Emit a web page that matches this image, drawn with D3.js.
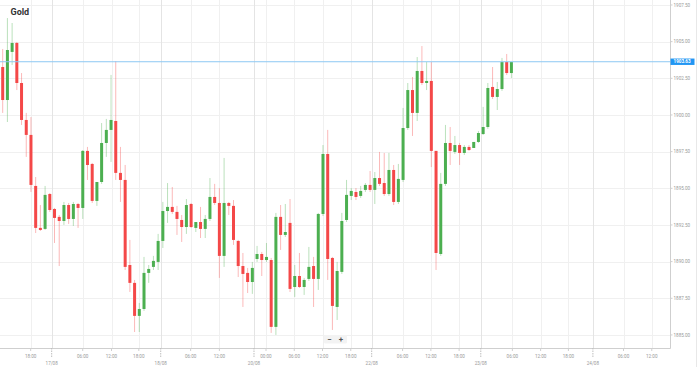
<!DOCTYPE html>
<html>
<head>
<meta charset="utf-8">
<script src="https://cdn.jsdelivr.net/npm/d3@7"></script>
<style>
html,body{margin:0;padding:0;background:#fff;}
svg{display:block;font-family:Roboto,"Open Sans",sans-serif;}
</style>
</head>
<body>
<svg id="chart" width="698" height="367"></svg>
<script>
// ---- data (hourly candles) ----
const opens = [1903.27,1901.02,1904.30,1904.91,1902.18,1899.66,1898.64,1895.16,1892.30,1892.23,
1894.61,1893.59,1893.05,1892.77,1893.86,1892.91,1893.93,1893.66,1897.55,1896.66,
1894.14,1895.43,1898.09,1898.98,1899.59,1896.05,1895.57,1889.77,1888.55,1886.30,
1886.77,1889.23,1889.64,1889.98,1891.41,1893.45,1893.73,1893.39,1892.84,1892.36,
1893.93,1892.30,1892.70,1892.23,1892.91,1894.41,1894.00,1890.39,1894.00,1893.80,
1891.41,1889.70,1889.23,1888.61,1890.18,1890.52,1890.11,1890.11,1885.55,1893.05,
1891.82,1892.64,1888.27,1889.02,1888.27,1888.82,1889.70,1888.82,1893.25,1897.34,
1890.25,1886.91,1889.30,1892.84,1894.48,1894.75,1894.48,1894.89,1895.23,1894.89,
1895.70,1895.36,1894.61,1896.25,1894.07,1895.57,1899.11,1901.70,1900.14,1903.00,
1902.18,1902.32,1897.55,1890.52,1895.30,1898.09,1897.48,1897.95,1897.41,1897.82,
1897.75,1898.16,1898.70,1899.18,1901.91,1901.23,1901.77,1903.61,1902.86];
const highs = [1904.50,1906.61,1906.27,1904.98,1902.86,1900.14,1899.86,1895.77,1893.86,1895.16,
1894.68,1893.66,1893.18,1894.07,1894.00,1894.07,1894.00,1897.61,1897.82,1896.73,
1895.43,1899.45,1899.73,1902.73,1903.68,1897.82,1896.59,1891.48,1888.75,1887.18,
1890.32,1889.77,1890.39,1891.89,1894.07,1895.36,1895.09,1893.80,1893.18,1894.27,
1894.00,1892.70,1893.73,1893.18,1895.70,1895.30,1895.02,1897.07,1894.07,1894.20,
1891.48,1890.59,1889.57,1889.98,1891.07,1890.66,1891.27,1890.25,1893.32,1893.86,
1893.93,1894.27,1889.77,1890.59,1888.89,1891.00,1890.32,1893.32,1897.95,1898.98,
1890.32,1889.98,1893.32,1895.57,1895.02,1895.02,1895.16,1895.36,1896.18,1896.11,
1897.48,1897.41,1897.41,1896.59,1896.66,1900.48,1902.18,1902.59,1903.95,1904.70,
1903.61,1903.61,1897.55,1896.05,1899.32,1899.18,1898.57,1898.09,1897.95,1897.95,
1898.16,1898.91,1900.55,1902.18,1903.27,1902.25,1903.89,1904.16,1903.61];
const lows = [1900.14,1899.52,1903.41,1901.70,1899.32,1897.14,1894.75,1891.95,1892.09,1892.16,
1893.39,1891.27,1889.70,1892.50,1892.57,1892.43,1892.30,1892.91,1895.57,1894.00,
1893.80,1895.30,1897.14,1896.80,1895.57,1894.07,1889.43,1887.93,1885.20,1885.20,
1886.64,1888.55,1889.43,1889.43,1890.93,1892.64,1893.25,1891.82,1891.34,1891.89,
1892.30,1892.02,1891.61,1891.61,1892.77,1893.86,1888.89,1889.64,1893.18,1891.14,
1888.95,1886.91,1887.86,1887.80,1889.98,1889.02,1889.98,1885.14,1885.00,1890.80,
1891.68,1887.93,1887.59,1888.20,1887.73,1888.68,1886.91,1888.07,1893.11,1888.75,
1885.34,1886.02,1889.16,1892.70,1894.20,1894.20,1894.34,1894.75,1894.75,1893.93,
1895.16,1894.48,1894.48,1893.86,1893.93,1895.43,1898.98,1898.57,1899.59,1902.05,
1901.70,1896.45,1889.43,1890.39,1895.16,1896.59,1897.34,1896.59,1897.27,1897.55,
1897.75,1898.09,1898.64,1899.05,1901.09,1900.34,1901.64,1902.73,1902.52];
const closes = [1901.02,1904.43,1904.91,1902.18,1899.66,1898.64,1895.23,1892.30,1892.16,1894.55,
1893.52,1892.98,1892.77,1893.86,1892.91,1893.93,1893.66,1897.55,1896.59,1894.14,
1895.43,1898.09,1898.98,1899.66,1896.05,1895.57,1889.64,1888.55,1886.30,1886.77,
1889.23,1889.50,1890.05,1891.41,1893.45,1893.73,1893.39,1892.91,1892.36,1893.86,
1892.36,1892.70,1892.23,1892.91,1894.41,1894.00,1890.39,1894.00,1893.80,1891.48,
1889.70,1889.16,1888.61,1889.57,1890.52,1890.11,1890.32,1885.55,1893.05,1891.82,
1892.02,1888.14,1889.02,1888.27,1888.75,1889.64,1888.82,1893.25,1897.34,1890.18,
1886.98,1889.36,1892.77,1894.55,1894.82,1894.41,1894.82,1895.23,1894.89,1895.70,
1895.30,1894.61,1896.25,1894.07,1895.64,1899.11,1901.70,1900.14,1903.00,1902.18,
1902.32,1897.55,1890.59,1895.30,1898.09,1897.55,1897.95,1897.41,1897.82,1897.61,
1898.16,1898.77,1899.18,1901.84,1901.23,1901.77,1903.61,1902.86,1903.61];

const title = "Gold";
const currentPrice = 1903.63;
const priceTicks = [1885, 1887.5, 1890, 1892.5, 1895, 1897.5, 1900, 1902.5, 1905, 1907.5];
// time ticks, in hourly-slot units (slot 0 = first candle)
const timeTickLabels = ["18:00","06:00","12:00","18:00","06:00","12:00","00:00","06:00","12:00","18:00",
  "06:00","12:00","18:00","06:00","12:00","18:00","06:00","12:00"];
const timeTickSlots = [5.94,16.99,23.1,28.9,39.9,46.0,55.9,61.9,67.9,73.9,
  84.9,90.9,96.9,108.2,114.2,120.1,131.8,137.8];
const dayTickLabels = ["17/08","18/08","20/08","22/08","23/08","24/08"];
const dayTickSlots = [10.4,33.55,53.35,78.34,101.5,125.3];

// ---- layout ----
const W = 698, H = 367;
const plotRight = 670, plotBottom = 348;
const svg = d3.select("#chart");

const candles = opens.map((o,i)=>({i, o, h:highs[i], l:lows[i], c:closes[i]}));

const x = d3.scaleLinear().domain([-0.573, 141.67]).range([0, plotRight]);
const y = d3.scaleLinear().domain([1884.11, 1907.84]).range([plotBottom, 0]);

const UP = "#4caf50", DOWN = "#f44848";
const UPW = "rgba(76,175,80,0.38)", DOWNW = "rgba(244,72,72,0.38)";

// grid
const grid = svg.append("g");
grid.selectAll("line.h").data(priceTicks).join("line")
  .attr("x1",0).attr("x2",plotRight)
  .attr("y1",d=>Math.round(y(d))+0.5).attr("y2",d=>Math.round(y(d))+0.5)
  .attr("stroke","#f0f0f0").attr("stroke-width",1);
grid.selectAll("line.vt").data(timeTickSlots).join("line")
  .attr("y1",0).attr("y2",plotBottom)
  .attr("x1",d=>Math.round(x(d))+0.5).attr("x2",d=>Math.round(x(d))+0.5)
  .attr("stroke","#f0f0f0").attr("stroke-width",1);
grid.selectAll("line.vd").data(dayTickSlots).join("line")
  .attr("y1",0).attr("y2",plotBottom)
  .attr("x1",d=>Math.round(x(d))+0.5).attr("x2",d=>Math.round(x(d))+0.5)
  .attr("stroke","#e4e4e4").attr("stroke-width",1);

// candles
const cg = svg.append("g");
const bw = 3;
cg.selectAll("line.wick").data(candles).join("line")
  .attr("x1",d=>x(d.i)).attr("x2",d=>x(d.i))
  .attr("y1",d=>y(d.h)).attr("y2",d=>y(d.l))
  .attr("stroke",d=>d.c>=d.o?UPW:DOWNW).attr("stroke-width",1);
cg.selectAll("rect.body").data(candles).join("rect")
  .attr("x",d=>x(d.i)-bw/2).attr("width",bw)
  .attr("y",d=>y(Math.max(d.o,d.c)))
  .attr("height",d=>Math.max(1, Math.abs(y(d.o)-y(d.c))))
  .attr("fill",d=>d.c>=d.o?UP:DOWN);

// current price line
svg.append("line").attr("x1",0).attr("x2",plotRight)
  .attr("y1",y(currentPrice)).attr("y2",y(currentPrice))
  .attr("stroke","#8ec9f3").attr("stroke-width",1);

// axes lines
svg.append("line").attr("x1",plotRight+0.5).attr("x2",plotRight+0.5).attr("y1",0).attr("y2",plotBottom+0.5)
  .attr("stroke","#cfcfcf");
svg.append("line").attr("x1",0).attr("x2",plotRight+0.5).attr("y1",plotBottom+0.5).attr("y2",plotBottom+0.5)
  .attr("stroke","#cfcfcf");
svg.append("line").attr("x1",W-1.5).attr("x2",W-1.5).attr("y1",0).attr("y2",H)
  .attr("stroke","#e8e8e8");

// y axis labels
const ya = svg.append("g");
ya.selectAll("line").data(priceTicks).join("line")
  .attr("x1",plotRight).attr("x2",plotRight+2.5)
  .attr("y1",d=>y(d)).attr("y2",d=>y(d)).attr("stroke","#cfcfcf");
ya.selectAll("text").data(priceTicks).join("text")
  .attr("x",plotRight+3.5).attr("y",d=>y(d)+1.6)
  .attr("font-size",4.6).attr("fill","#9a9a9a")
  .text(d=>d3.format(".2f")(d));

// current price tag
svg.append("rect").attr("x",plotRight+0.5).attr("y",y(currentPrice)-3.2)
  .attr("width",24).attr("height",6.4).attr("fill","#2196f3");
svg.append("text").attr("x",plotRight+3.5).attr("y",y(currentPrice)+1.7)
  .attr("font-size",4.6).attr("fill","#fff").attr("font-weight","bold")
  .text(d3.format(".2f")(currentPrice));

// x axis
const xa = svg.append("g");
xa.selectAll("line.t").data(timeTickSlots).join("line")
  .attr("x1",d=>x(d)).attr("x2",d=>x(d)).attr("y1",plotBottom).attr("y2",plotBottom+3)
  .attr("stroke","#cfcfcf");
xa.selectAll("text.t").data(timeTickSlots).join("text")
  .attr("x",d=>x(d)).attr("y",357.5).attr("text-anchor","middle")
  .attr("font-size",4.6).attr("fill","#9a9a9a")
  .text((d,i)=>timeTickLabels[i]);
xa.selectAll("line.d").data(dayTickSlots).join("line")
  .attr("x1",d=>x(d)).attr("x2",d=>x(d)).attr("y1",plotBottom).attr("y2",plotBottom+10)
  .attr("stroke","#bdbdbd").attr("stroke-dasharray","1.5,1");
xa.selectAll("text.d").data(dayTickSlots).join("text")
  .attr("x",d=>x(d)).attr("y",364.8).attr("text-anchor","middle")
  .attr("font-size",4.6).attr("fill","#9a9a9a")
  .text((d,i)=>dayTickLabels[i]);

// title
svg.append("text").attr("x",10.5).attr("y",15.3)
  .attr("font-size",9).attr("font-weight","bold").attr("fill","#333")
  .text(title);

// zoom controls
const zc = svg.append("g");
zc.append("rect").attr("x",324).attr("y",335).attr("width",23).attr("height",8.5)
  .attr("rx",1.5).attr("fill","#f3f3f3");
zc.append("text").attr("x",329.5).attr("y",341.8).attr("text-anchor","middle")
  .attr("font-size",8).attr("font-weight","bold").attr("fill","#555").text("−");
zc.append("text").attr("x",341).attr("y",341.8).attr("text-anchor","middle")
  .attr("font-size",8).attr("font-weight","bold").attr("fill","#555").text("+");
</script>
</body>
</html>
